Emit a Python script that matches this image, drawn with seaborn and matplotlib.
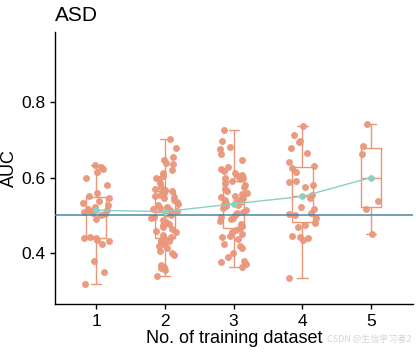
"""AUC vs number of training datasets (ASD) — box + jitter + summary line."""

import matplotlib
matplotlib.use("Agg")
import matplotlib.pyplot as plt
import numpy as np
import pandas as pd
import seaborn as sns

SALMON = "#E9967A"
TEAL = "#8DCFC0"
REF_BLUE = "#4A86AA"

# AUC values, one list per number of training datasets
AUC_1 = [0.320, 0.350, 0.380, 0.425, 0.432, 0.436, 0.440, 0.441, 0.443, 0.490,
         0.500, 0.503, 0.505, 0.510, 0.512, 0.515, 0.518, 0.522, 0.527, 0.532,
         0.538, 0.545, 0.550, 0.560, 0.580, 0.600, 0.615, 0.622, 0.628, 0.633]
AUC_2 = [0.341, 0.355, 0.360, 0.365, 0.370, 0.395, 0.400, 0.405, 0.415, 0.420,
         0.425, 0.430, 0.433, 0.436, 0.439, 0.442, 0.448, 0.455, 0.460, 0.465,
         0.470, 0.474, 0.478, 0.483, 0.488, 0.492, 0.496, 0.500, 0.504, 0.508,
         0.512, 0.515, 0.518, 0.520, 0.523, 0.527, 0.530, 0.535, 0.540, 0.545,
         0.548, 0.552, 0.555, 0.560, 0.564, 0.568, 0.570, 0.575, 0.585, 0.595,
         0.600, 0.605, 0.612, 0.620, 0.636, 0.638, 0.645, 0.654, 0.679, 0.701]
AUC_3 = [0.364, 0.372, 0.376, 0.380, 0.390, 0.400, 0.415, 0.420, 0.425, 0.438,
         0.442, 0.446, 0.450, 0.455, 0.462, 0.468, 0.472, 0.478, 0.485, 0.490,
         0.494, 0.497, 0.500, 0.505, 0.510, 0.515, 0.520, 0.524, 0.527, 0.529,
         0.532, 0.536, 0.540, 0.543, 0.546, 0.549, 0.552, 0.556, 0.560, 0.565,
         0.570, 0.576, 0.580, 0.585, 0.591, 0.595, 0.598, 0.600, 0.603, 0.607,
         0.612, 0.618, 0.622, 0.628, 0.646, 0.662, 0.675, 0.681, 0.697, 0.725]
AUC_4 = [0.335, 0.436, 0.440, 0.443, 0.445, 0.470, 0.475, 0.480, 0.492, 0.500,
         0.503, 0.505, 0.518, 0.522, 0.545, 0.555, 0.575, 0.580, 0.589, 0.592,
         0.615, 0.625, 0.630, 0.640, 0.665, 0.678, 0.694, 0.697, 0.712, 0.736]
AUC_5 = [0.450, 0.517, 0.539, 0.661, 0.683, 0.740]

N_TRAIN = ["1", "2", "3", "4", "5"]
GROUPS = [AUC_1, AUC_2, AUC_3, AUC_4, AUC_5]


def build_tidy() -> pd.DataFrame:
    rows = []
    for n, vals in zip(N_TRAIN, GROUPS):
        rows += [{"n_train": n, "auc": v} for v in vals]
    return pd.DataFrame(rows)


def main() -> None:
    df = build_tidy()
    np.random.seed(7)  # stripplot jitter

    sns.set_style("ticks")
    plt.rcParams.update({
        "font.family": ["Liberation Sans", "DejaVu Sans"],
        "text.color": "black",
        "axes.labelcolor": "black",
        "axes.edgecolor": "black",
        "axes.linewidth": 1.0,
        "xtick.color": "black",
        "ytick.color": "black",
        "xtick.major.size": 3.5,
        "ytick.major.size": 3.5,
        "xtick.major.width": 1.0,
        "ytick.major.width": 1.0,
    })

    fig = plt.figure(figsize=(4.16, 3.56), dpi=100)
    ax = fig.add_axes([0.132, 0.146, 0.861, 0.764])

    sns.boxplot(data=df, x="n_train", y="auc", order=N_TRAIN, width=0.3,
                fill=False, color=SALMON, showfliers=False, linewidth=1.0, ax=ax)
    sns.stripplot(data=df, x="n_train", y="auc", order=N_TRAIN, jitter=0.2,
                  size=5, color=SALMON, alpha=0.95, linewidth=0, ax=ax)
    ax.axhline(0.5, color=REF_BLUE, lw=1.1, zorder=4)
    sns.pointplot(data=df, x="n_train", y="auc", order=N_TRAIN,
                  estimator="median", errorbar=None, color=TEAL,
                  markersize=4, linewidth=1.0, ax=ax)
    for coll in ax.collections[-1:]:
        coll.set_zorder(6)
    for line in ax.lines[-1:]:
        line.set_zorder(6)

    ax.set_xlim(-0.6, 4.61)
    ax.set_ylim(0.266, 0.984)
    ax.set_yticks([0.4, 0.6, 0.8])
    ax.tick_params(labelsize=12.5)
    ax.set_xlabel("No. of training dataset", fontsize=13, labelpad=1)
    ax.set_ylabel("AUC", fontsize=13)
    ax.yaxis.set_label_coords(-0.103, 0.5)
    ax.set_title("ASD", loc="left", fontsize=15, pad=8)
    sns.despine(ax=ax)

    fig.text(0.99, 0.035, "CSDN @生信学习者2", ha="right", va="bottom",
             fontsize=6.5, color="#D5D5D5",
             family=["Noto Sans CJK SC", "DejaVu Sans"])

    fig.savefig("out.png", dpi=100)
    plt.close(fig)


if __name__ == "__main__":
    main()
